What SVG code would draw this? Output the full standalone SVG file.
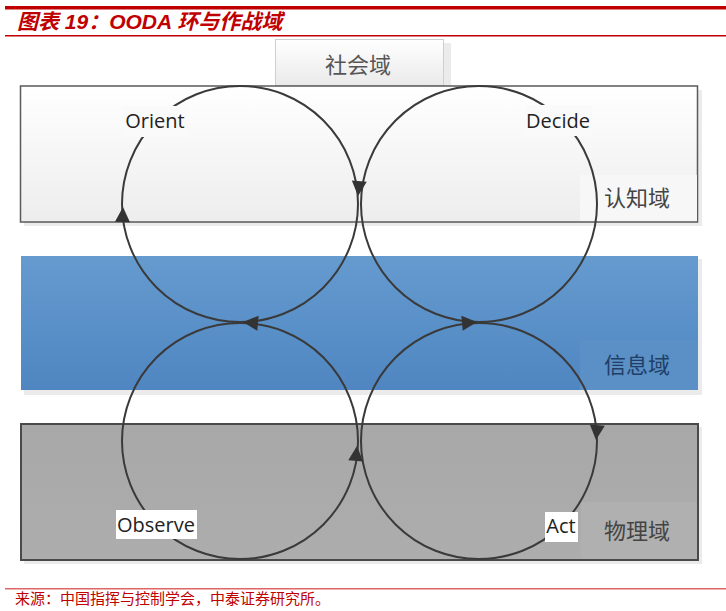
<svg xmlns="http://www.w3.org/2000/svg" width="726" height="611" viewBox="0 0 726 611">
<style>
.title{font-family:"Liberation Sans","Noto Sans CJK SC",sans-serif;font-weight:bold;font-style:italic;font-size:21px;fill:#c00000}
.src{font-family:"Noto Sans CJK SC",sans-serif;font-size:15px;fill:#c00000}
.dom{font-family:"Noto Sans CJK SC",sans-serif;font-size:22px;text-anchor:middle}
.lbl{font-family:"Open Sans","Liberation Sans",sans-serif;font-size:20px;fill:#222;text-anchor:middle}
.ring{fill:none;stroke:#3a3a3a;stroke-width:2}
.shadow{fill:#000;opacity:0.08}
</style>
<defs>
<linearGradient id="gTop" x1="0" y1="0" x2="0" y2="1"><stop offset="0" stop-color="#ffffff"/><stop offset="1" stop-color="#ededed"/></linearGradient>
<linearGradient id="gBlue" x1="0" y1="0" x2="0" y2="1"><stop offset="0" stop-color="#659bcf"/><stop offset="1" stop-color="#4f86c1"/></linearGradient>
<linearGradient id="gGray" x1="0" y1="0" x2="0" y2="1"><stop offset="0" stop-color="#a8a8a8"/><stop offset="1" stop-color="#adadad"/></linearGradient>
<linearGradient id="gSoc" x1="0" y1="0" x2="0" y2="1"><stop offset="0" stop-color="#ffffff"/><stop offset="1" stop-color="#eaeaea"/></linearGradient>
<path id="ah" d="M0,0 L-15,-7.5 L-15,7.5 Z" fill="#333"/>
</defs>

<!-- header -->
<rect x="5" y="6" width="721" height="3.5" fill="#c00000"/>
<text class="title" x="17" y="29">图表 19：OODA 环与作战域</text>
<rect x="5" y="35" width="721" height="1.5" fill="#c00000"/>

<!-- social domain -->
<g id="social">
<rect class="shadow" x="280" y="43" width="171" height="46"/>
<rect x="275.5" y="39.5" width="168" height="46" fill="url(#gSoc)" stroke="#cfcfcf" stroke-width="1"/>
<text class="dom" x="358" y="73" fill="#555">社会域</text>
</g>

<!-- cognitive -->
<g id="cognitive">
<rect class="shadow" x="24" y="90" width="678" height="136"/>
<rect x="20.5" y="86" width="677" height="136" fill="url(#gTop)" stroke="#5a5a5a" stroke-width="1.5"/>
<rect x="580" y="175" width="117" height="46" fill="#f7f7f7"/>
<text class="dom" x="637" y="206" fill="#444">认知域</text>
</g>

<!-- information -->
<g id="information">
<rect class="shadow" x="24" y="259" width="678" height="136"/>
<rect x="21" y="256" width="677" height="134" fill="url(#gBlue)"/>
<rect x="580" y="340" width="118" height="50" fill="#5a90c6"/>
<text class="dom" x="637" y="373" fill="#213f66">信息域</text>
</g>

<!-- physical -->
<g id="physical">
<rect class="shadow" x="24" y="427" width="678" height="137"/>
<rect x="21" y="424" width="677" height="136" fill="url(#gGray)" stroke="#4a4a4a" stroke-width="2"/>
<rect x="581" y="502" width="116" height="57" fill="#b0b0b0"/>
<text class="dom" x="637" y="539" fill="#444">物理域</text>
</g>

<!-- connectors: OODA loops -->
<g id="connectors">
<circle class="ring" cx="240" cy="204" r="118"/>
<circle class="ring" cx="479" cy="204" r="118"/>
<circle class="ring" cx="240" cy="441" r="118"/>
<circle class="ring" cx="479" cy="441" r="118"/>
<use href="#ah" transform="translate(358,196) rotate(95)"/>
<use href="#ah" transform="translate(123,207) rotate(-88)"/>
<use href="#ah" transform="translate(243,322) rotate(185)"/>
<use href="#ah" transform="translate(477,322) rotate(-5)"/>
<use href="#ah" transform="translate(596,440) rotate(95)"/>
<use href="#ah" transform="translate(357,446) rotate(-85)"/>
</g>

<!-- phase labels -->
<g id="orient">
<rect x="123" y="106" width="64" height="31" fill="#fafafa"/>
<text class="lbl" x="155" y="128">Orient</text>
</g>
<g id="decide">
<rect x="525" y="105" width="67" height="31" fill="#fafafa"/>
<text class="lbl" x="558" y="128">Decide</text>
</g>
<g id="observe">
<rect x="116" y="510" width="81" height="29" fill="#ffffff"/>
<text class="lbl" x="156" y="532">Observe</text>
</g>
<g id="act">
<rect x="545" y="512" width="33" height="30" fill="#ffffff"/>
<text class="lbl" x="561" y="533">Act</text>
</g>

<!-- footer -->
<rect x="5" y="588" width="721" height="1.5" fill="#e06666"/>
<text class="src" x="15" y="604">来源：中国指挥与控制学会，中泰证券研究所。</text>
</svg>
